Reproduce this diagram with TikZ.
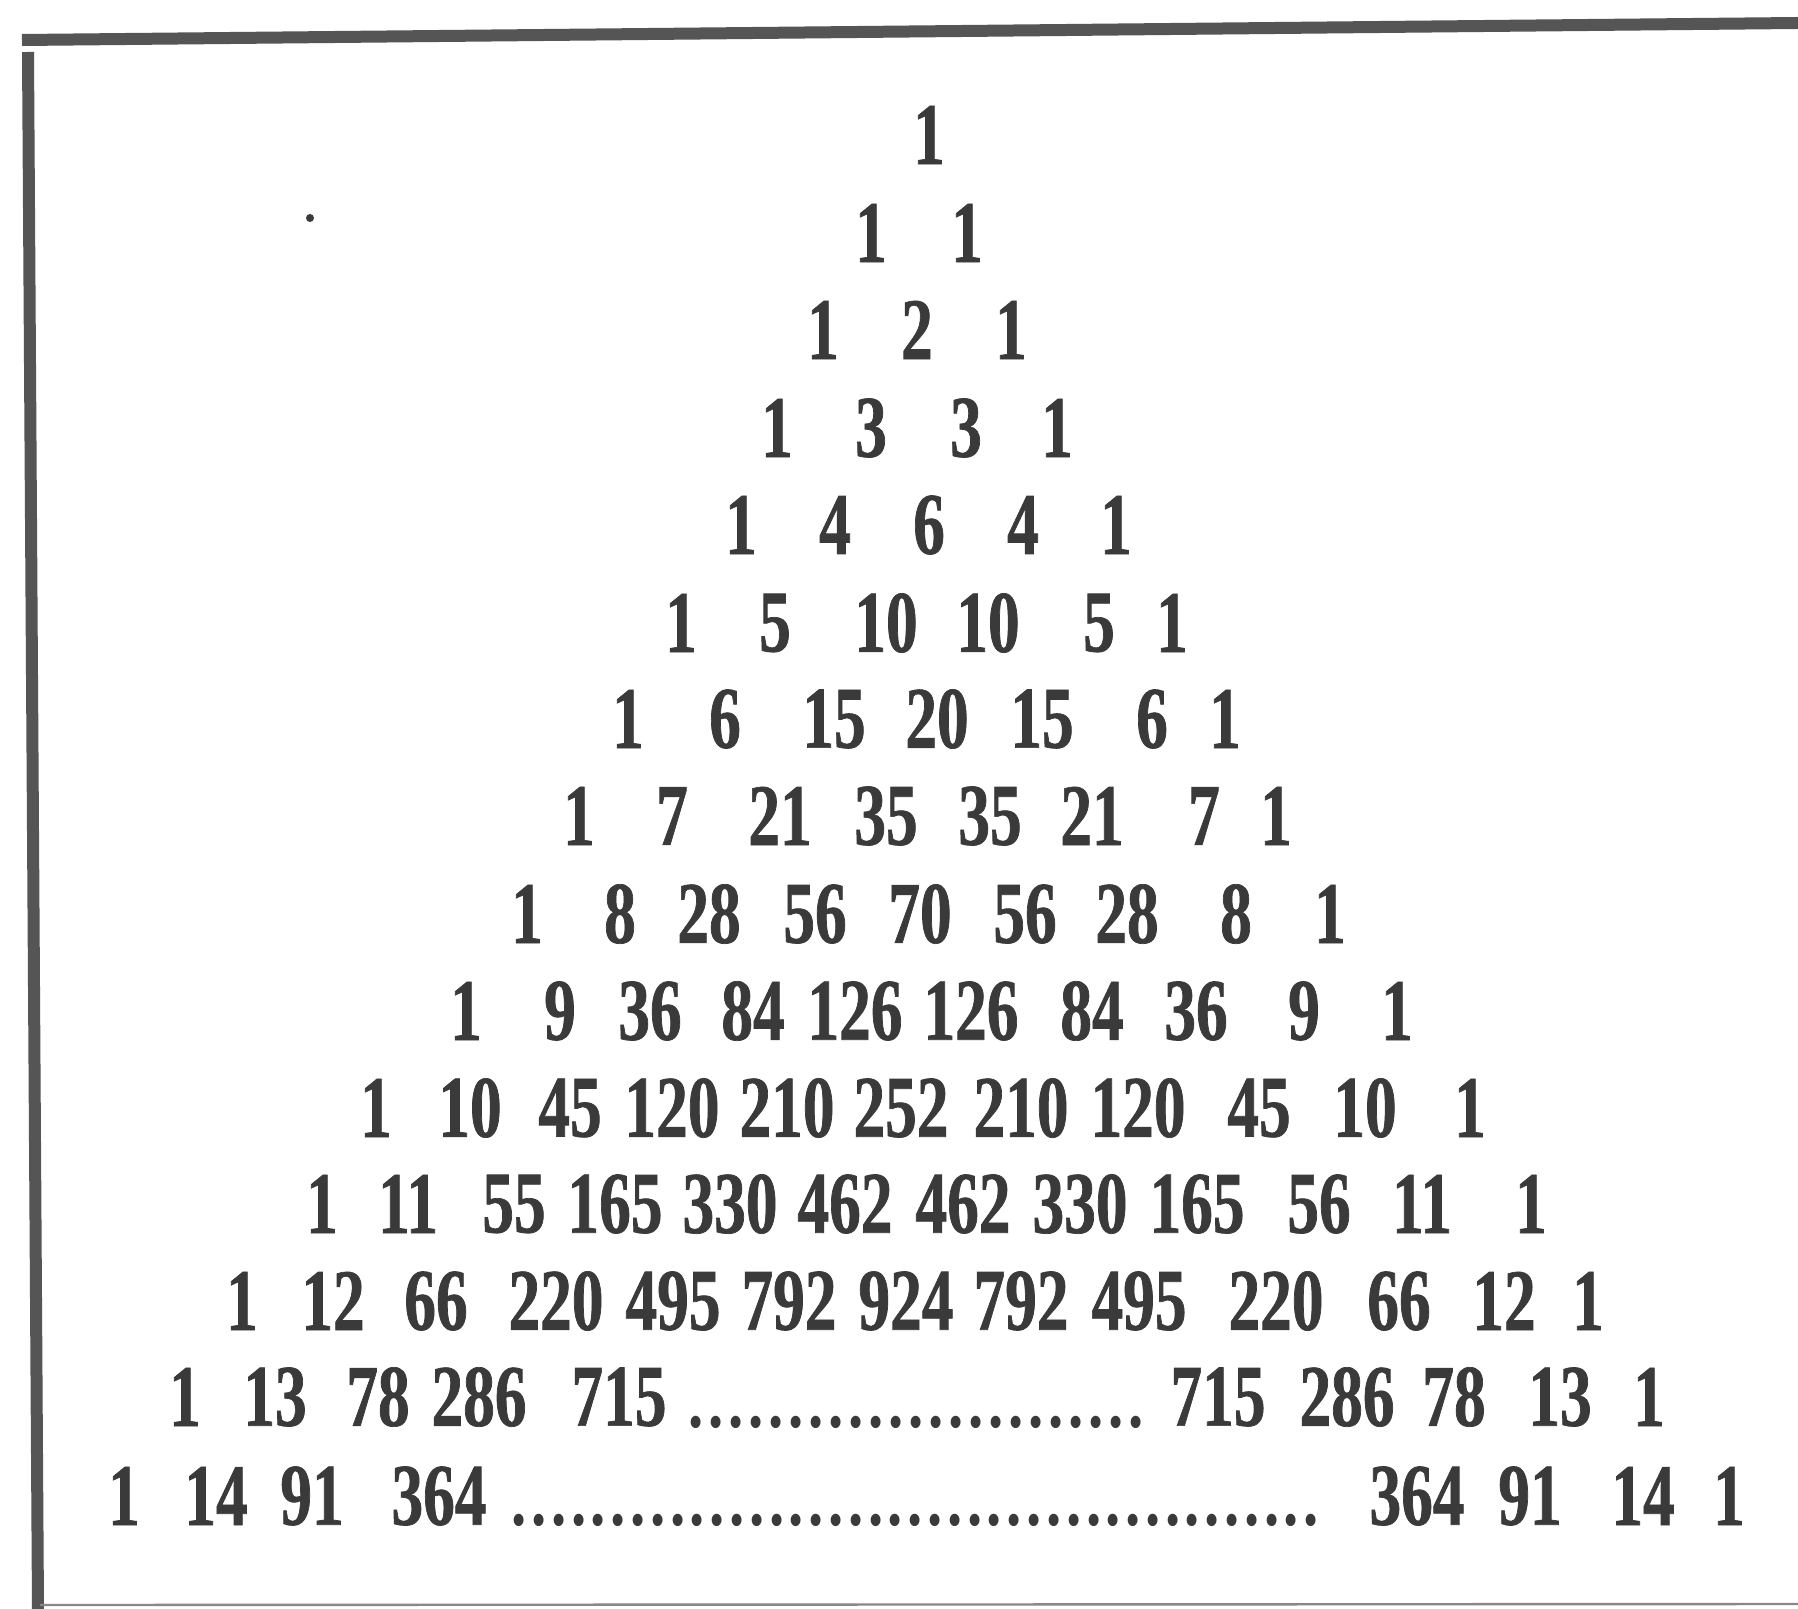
\documentclass[tikz,border=0pt]{standalone}
\usepackage{fontspec}
\newfontfamily\pf[FakeStretch=0.72,FakeBold=0.8]{Liberation Serif Bold}
\newfontfamily\pd[FakeStretch=0.8]{Liberation Serif Bold}
\definecolor{ink}{HTML}{3A3A3A}
\definecolor{framegray}{HTML}{555555}
\newcommand{\dotrow}[2]{\hbox to #1{\cleaders\hbox to #2{\hss.\hss}\hfill}}
\begin{document}
\begin{tikzpicture}[x=0.5pt,y=-0.5pt,
  num/.style={inner sep=0pt,anchor=center,text=ink,font=\pf\fontsize{44}{44}\selectfont},
  leader/.style={inner sep=0pt,anchor=base west,text=ink,font=\pd\fontsize{38}{38}\selectfont},
  framebar/.style={draw=framegray,line width=6pt,line cap=butt}]
\useasboundingbox (0,0) rectangle (1798,1609);
\fill[white] (0,0) rectangle (1798,1609);
% frame
\coordinate (ftl) at (22,40);
\coordinate (ftr) at (1798,23);
\coordinate (fbl) at (38,1609);
\coordinate (bl1) at (40,1605);
\coordinate (bl2) at (1798,1604);
\draw[framebar] (ftl) -- (ftr);
\draw[framebar] ([yshift=-6pt]ftl) ++(6,0) coordinate (ltop) (ltop) -- (fbl);
\draw[draw=framegray!70,line width=1.2pt] (bl1) -- (bl2);
\fill[ink] (310,218) circle (4) coordinate (speck);
% rows
\foreach \x/\t [count=\i] in {929/1}
  \node[num] (r1c\i) at (\x,135) {\t};
\foreach \x/\t [count=\i] in {871/1,967/1}
  \node[num] (r2c\i) at (\x,233) {\t};
\foreach \x/\t [count=\i] in {823/1,917/2,1011/1}
  \node[num] (r3c\i) at (\x,330) {\t};
\foreach \x/\t [count=\i] in {777/1,871/3,966/3,1057/1}
  \node[num] (r4c\i) at (\x,428) {\t};
\foreach \x/\t [count=\i] in {741/1,835/4,929/6,1023/4,1116/1}
  \node[num] (r5c\i) at (\x,525) {\t};
\foreach \x/\t [count=\i] in {681/1,775/5,886/10,988/10,1099/5,1172/1}
  \node[num] (r6c\i) at (\x,623) {\t};
\foreach \x/\t [count=\i] in {628/1,725/6,834/15,937/20,1042/15,1152/6,1225/1}
  \node[num] (r7c\i) at (\x,719) {\t};
\foreach \x/\t [count=\i] in {579/1,672/7,780/21,886/35,990/35,1092/21,1204/7,1276/1}
  \node[num] (r8c\i) at (\x,816) {\t};
\foreach \x/\t [count=\i] in {527/1,620/8,709/28,815/56,920/70,1025/56,1127/28,1236/8,1330/1}
  \node[num] (r9c\i) at (\x,914) {\t};
\foreach \x/\t [count=\i] in {466/1,560/9,650/36,753/84,855/126,971/126,1092/84,1196/36,1304/9,1397/1}
  \node[num] (r10c\i) at (\x,1011) {\t};
\foreach \x/\t [count=\i] in {376/1,470/10,570/45,672/120,787/210,901/252,1021/210,1138/120,1259/45,1365/10,1470/1}
  \node[num] (r11c\i) at (\x,1108) {\t};
\foreach \x/\t [count=\i] in {322/1,408/11,514/55,615/165,730/330,845/462,963/462,1080/330,1197/165,1319/56,1422/11,1531/1}
  \node[num] (r12c\i) at (\x,1204) {\t};
\foreach \x/\t [count=\i] in {242/1,333/12,436/66,556/220,673/495,789/792,906/924,1021/792,1139/495,1276/220,1399/66,1504/12,1588/1}
  \node[num] (r13c\i) at (\x,1301) {\t};
\foreach \x/\t [count=\i] in {185/1,275/13,378/78,479/286,619/715,1218/715,1347/286,1454/78,1560/13,1649/1}
  \node[num] (r14c\i) at (\x,1397) {\t};
\node[leader] (r14dots) at (686,1427) {\dotrow{230pt}{10pt}};
\foreach \x/\t [count=\i] in {124/1,216/14,312/91,439/364,1417/364,1530/91,1643/14,1729/1}
  \node[num] (r15c\i) at (\x,1496) {\t};
\node[leader] (r15dots) at (509,1525) {\dotrow{406pt}{9.9pt}};
\end{tikzpicture}
\end{document}
